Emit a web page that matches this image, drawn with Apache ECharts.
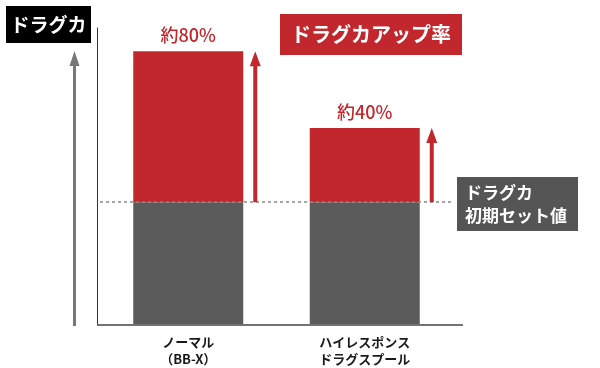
<!DOCTYPE html>
<html><head><meta charset="utf-8">
<script src="https://cdn.jsdelivr.net/npm/echarts@6/dist/echarts.min.js"></script>
<style>html,body{margin:0;padding:0;background:#fff}#c{width:600px;height:368px}</style>
</head><body><div id="c"></div>
<script>
const categories = ['ノーマル\n（BB-X）', 'ハイレスポンス\nドラグスプール'];
const baseValues = [100, 100];
const upValues = [124, 61];
const upLabels = ['約80%', '約40%'];
const yMax = 243;

const RED = '#c1272d', GRAY = '#5b5b5b';
const FONT = '"Noto Sans CJK JP", "Noto Sans", sans-serif';

const arrowData = categories.map((c, i) => [i, baseValues[i], baseValues[i] + upValues[i]]);

const chart = echarts.init(document.getElementById('c'), null, {renderer: 'canvas'});
chart.setOption({
  animation: false,
  textStyle: {fontFamily: FONT},
  grid: {left: 100, right: 147, top: 28, bottom: 43},
  xAxis: {
    type: 'category', data: categories,
    axisLine: {show: false}, axisTick: {show: false},
    axisLabel: {color: '#1a1a1a', fontSize: 13, fontFamily: FONT, lineHeight: 17, margin: 10, fontWeight: 'bold'}
  },
  yAxis: {
    type: 'value', min: 0, max: yMax, offset: 3,
    axisLine: {show: true, lineStyle: {color: '#333', width: 1}},
    axisTick: {show: false}, axisLabel: {show: false}, splitLine: {show: false}
  },
  series: [
    {type: 'bar', stack: 's', data: baseValues, barWidth: 110, itemStyle: {color: GRAY},
     markLine: {silent: true, symbol: 'none', label: {show: false},
       lineStyle: {color: '#888', type: [3, 3], width: 1.5},
       data: [{yAxis: baseValues[0]}]}},
    {type: 'bar', stack: 's', data: upValues, barWidth: 110, itemStyle: {color: RED},
     label: {show: true, position: 'top', distance: 7, color: RED, fontSize: 18, fontFamily: FONT, fontWeight: 500,
       formatter: p => upLabels[p.dataIndex]}},
    {type: 'custom', data: arrowData, z: 5,
     renderItem: function (params, api) {
       const i = api.value(0);
       const b = api.coord([i, api.value(1)]);
       const t = api.coord([i, api.value(2)]);
       const x = b[0] + 67;
       const headH = 15, headW = 11, shaft = 4;
       return {type: 'group', children: [
         {type: 'rect', shape: {x: x - shaft / 2, y: t[1] + headH - 1, width: shaft, height: b[1] - t[1] - headH + 1}, style: {fill: RED}},
         {type: 'polygon', shape: {points: [[x, t[1]], [x - headW / 2, t[1] + headH], [x + headW / 2, t[1] + headH]]}, style: {fill: RED}}
       ]};
     }}
  ],
  graphic: [
    {type: 'line', shape: {x1: 97, y1: 325, x2: 463, y2: 325}, style: {stroke: '#444', lineWidth: 1.5}},
    {type: 'rect', shape: {x: 73, y: 64, width: 3, height: 262}, style: {fill: '#777'}},
    {type: 'polygon', shape: {points: [[74.5, 51], [69.5, 66], [79.5, 66]]}, style: {fill: '#777'}},
    {type: 'group', left: 6, top: 6, children: [
      {type: 'rect', shape: {x: 0, y: 0, width: 85, height: 37}, style: {fill: '#000'}},
      {type: 'text', x: 42.5, y: 18.5, style: {text: 'ドラグカ', fill: '#fff', font: 'bold 19px ' + FONT, align: 'center', verticalAlign: 'middle'}}
    ]},
    {type: 'group', left: 280, top: 14, children: [
      {type: 'rect', shape: {x: 0, y: 0, width: 182, height: 41}, style: {fill: RED}},
      {type: 'text', x: 91, y: 20.5, style: {text: 'ドラグカアップ率', fill: '#fff', font: 'bold 20px ' + FONT, align: 'center', verticalAlign: 'middle'}}
    ]},
    {type: 'group', left: 457, top: 177, children: [
      {type: 'rect', shape: {x: 0, y: 0, width: 121, height: 54}, style: {fill: '#555'}},
      {type: 'text', x: 8, y: 27, style: {text: 'ドラグカ\n初期セット値', fill: '#fff', font: 'bold 17px ' + FONT, lineHeight: 23, align: 'left', verticalAlign: 'middle'}}
    ]}
  ]
});
</script></body></html>
